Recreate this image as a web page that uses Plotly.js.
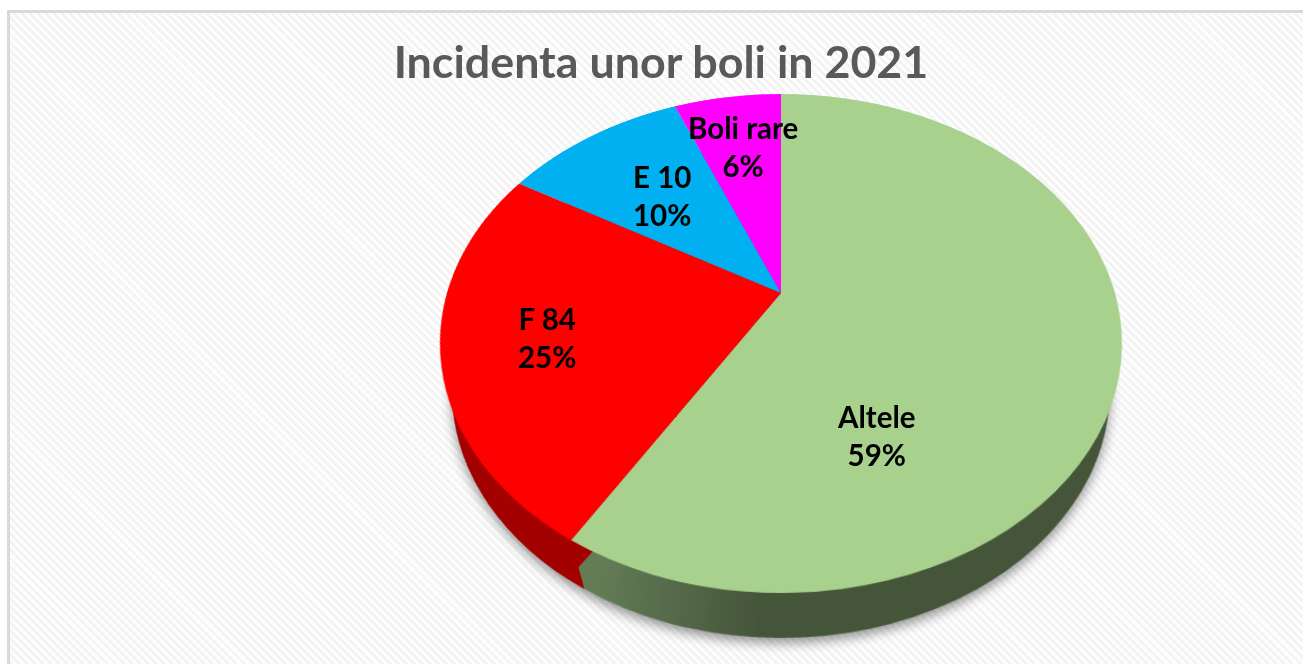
<!DOCTYPE html>
<html><head><meta charset="utf-8">
<script src="https://cdn.plot.ly/plotly-3.0.1.min.js"></script>
<style>
html,body{margin:0;padding:0;width:1303px;height:664px;overflow:hidden;background:#fff}
#frame{position:absolute;left:7px;top:10px;width:1310px;height:690px;box-sizing:border-box;border:3px solid #d9d9d9;
background-color:#fff;background-image:repeating-linear-gradient(45deg,#f4f4f4 0 2.8px,rgba(255,255,255,0) 2.8px 5.7px),repeating-linear-gradient(-45deg,#fcfcfc 0 2.8px,#fff 2.8px 5.7px)}
.layer{position:absolute;left:0;top:0;transform-origin:0 0}
#shadow{position:absolute;left:0;top:0;width:1303px;height:700px;filter:drop-shadow(0 5px 6px rgba(0,0,0,.42))}
#redclip{position:absolute;left:0;top:0;width:1303px;height:700px;clip-path:polygon(0 0,427px 0,614px 700px,0 700px)}
</style></head><body>
<div id="frame"></div>
<div id="shadow">
  <div id="side" class="layer"></div>
  <div id="redclip"><div id="sideRed" class="layer"></div></div>
</div>
<div id="top" class="layer"></div>
<div id="text" class="layer"></div>
<script>
var categories=["Altele","F 84","E 10","Boli rare"];
var values=[58.7,24.7,10.45,6.15];
var topColors=["#a9d18e","#ff0000","#00b0f0","#ff00ff"];
var sideColors=["#45553a","#a30000","#006e96","#a000a0"];
var sideRedColors=["rgba(0,0,0,0)","#a30000","rgba(0,0,0,0)","rgba(0,0,0,0)"];
var titleText="Incidenta unor boli in 2021";

var total=values.reduce(function(a,b){return a+b},0);
var percents=values.map(function(v){return Math.round(v/total*100)+"%"});

var S=700,R=340,c=S/2;
function homography(cx,ay,A,B,k){
  var m11=A/R,m21=cx*k/R,m41=cx-A*c/R-cx*k*c/R;
  var m22=(ay*k+B)/R,m42=ay-(ay*k+B)*c/R;
  var m24=k/R,m44=1-k*c/R;
  return "matrix3d("+[m11,0,0,0, m21,m22,0,m24, 0,0,1,0, m41,m42,0,m44].join(",")+")";
}
function pieFig(colors,rotation){
  return {data:[{type:"pie",labels:categories,values:values,sort:false,direction:"clockwise",rotation:rotation,
    marker:{colors:colors,line:{width:0}},textinfo:"none",hoverinfo:"none",domain:{x:[0,1],y:[0,1]}}],
   layout:{width:S,height:S,margin:{l:10,r:10,t:10,b:10},showlegend:false,paper_bgcolor:"rgba(0,0,0,0)"}};
}
var cfg={displayModeBar:false,staticPlot:true};
var k=-0.2024;

var sideFig=pieFig(sideColors,2),sideRedFig=pieFig(sideRedColors,-4),topFig=pieFig(topColors,0);
var sideEl=document.getElementById("side"),sideRedEl=document.getElementById("sideRed"),topEl=document.getElementById("top"),textEl=document.getElementById("text");
var wall=homography(781,341,322,236.9,k);
sideEl.style.transform=wall;
sideRedEl.style.transform=wall;
topEl.style.transform=homography(781,293,334,239.3,k);

var labelPos=[[875.5,436],[546.5,337],[662,195],[743,147]];
var annotations=categories.map(function(n,i){
  return {xref:"paper",yref:"paper",x:labelPos[i][0]/1303,y:1-labelPos[i][1]/664,xanchor:"center",yanchor:"middle",showarrow:false,
   align:"center",text:n+"<br>"+percents[i],font:{family:"Lato",size:29.5,color:"#000",weight:700}};
});
Plotly.newPlot(sideEl,sideFig.data,sideFig.layout,cfg).then(function(){
  var svg=sideEl.querySelector("svg.main-svg");
  var ns="http://www.w3.org/2000/svg";
  var defs=document.createElementNS(ns,"defs");
  function grad(id,stops){
    var g=document.createElementNS(ns,"linearGradient");g.setAttribute("id",id);
    stops.forEach(function(s){var e=document.createElementNS(ns,"stop");e.setAttribute("offset",s[0]);e.setAttribute("stop-color",s[1]);g.appendChild(e);});
    defs.appendChild(g);
  }
  grad("gGreen",[[0.05,"#647c56"],[0.32,"#45553a"],[1,"#45553a"]]);
  svg.insertBefore(defs,svg.firstChild);
  var p=sideEl.querySelector(".slice path.surface");
  if(p)p.style.fill="url(#gGreen)";
});
Plotly.newPlot(sideRedEl,sideRedFig.data,sideRedFig.layout,cfg);
Plotly.newPlot(topEl,topFig.data,topFig.layout,cfg);
Plotly.newPlot(textEl,[],{width:1303,height:664,margin:{l:0,r:0,t:0,b:0},paper_bgcolor:"rgba(0,0,0,0)",plot_bgcolor:"rgba(0,0,0,0)",
  xaxis:{visible:false},yaxis:{visible:false},
  title:{text:titleText,x:661/1303,xanchor:"center",y:1-62/664,yanchor:"middle",font:{family:"Lato",size:44.8,color:"#595959",weight:700}},
  annotations:annotations},cfg);
</script></body></html>
